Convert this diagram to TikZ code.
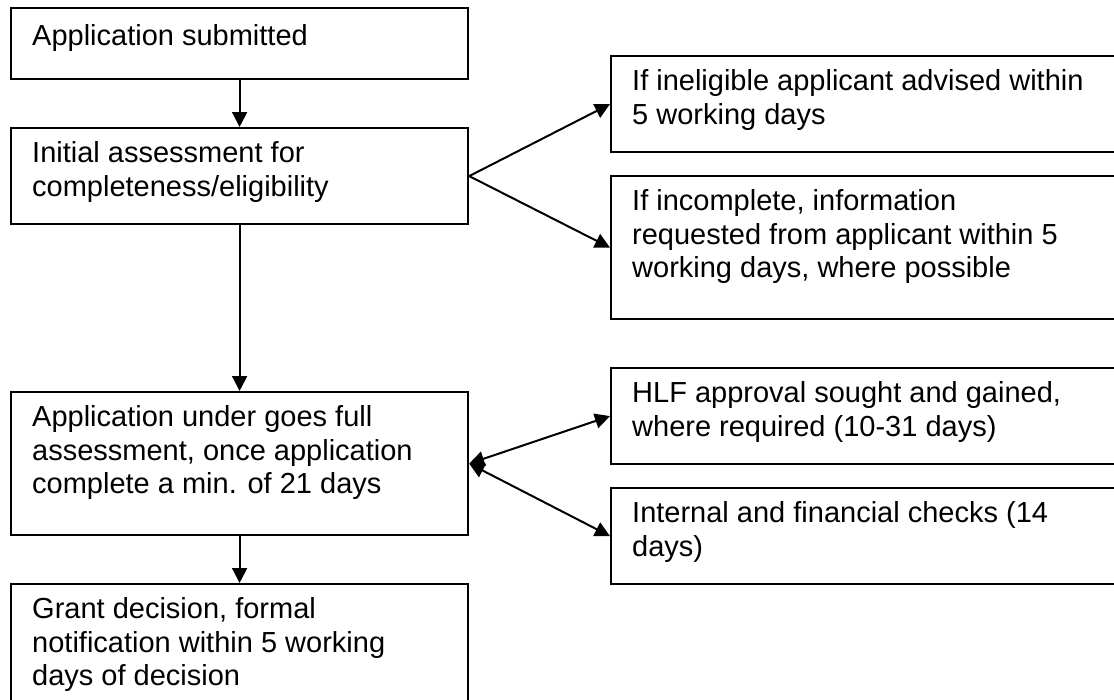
\documentclass[tikz,border=0pt]{standalone}
\usepackage{fontspec}
\setmainfont{Liberation Sans}
\usetikzlibrary{arrows.meta,positioning}

\tikzset{
    box/.style={draw=black, line width=2.2pt, anchor=north west, inner sep=0pt, minimum width=#1},
    txt/.style={anchor=north west, align=left, inner sep=0pt, font=\fontsize{29}{33.4}\selectfont, execute at begin node=\strut},
    arr/.style={line width=2pt, -{Triangle[length=15pt,width=15pt]}},
    dblarr/.style={line width=2pt, {Triangle[length=15pt,width=15pt]}-{Triangle[length=15pt,width=15pt]}}
}

\begin{document}
\begin{tikzpicture}[x=1pt,y=1pt]
            \clip (0,0) rectangle (1114,-699);
            % left column
            \node[box=457pt, minimum height=71pt] (sub) at (10,-7) {};
            \node[box=457pt, minimum height=96pt] (init) at (10,-127) {};
            \node[box=457pt, minimum height=143pt] (full) at (10,-391) {};
            \node[box=457pt, minimum height=140pt] (grant) at (10,-583) {};
            % right column
            \node[box=510pt, minimum height=96pt] (inel) at (610,-55) {};
            \node[box=510pt, minimum height=143pt] (incompl) at (610,-175) {};
            \node[box=510pt, minimum height=96pt] (hlf) at (610,-367) {};
            \node[box=510pt, minimum height=96pt] (checks) at (610,-487) {};

            \node[txt, below right=14.6pt and 22pt of sub.north west] (subtxt) {Application submitted};
            \node[txt, below right=14.6pt and 22pt of init.north west] (inittxt) {Initial assessment for\\completeness/eligibility};
            \node[txt, below right=14.6pt and 22pt of full.north west] (fulltxt) {Application under goes full\\assessment, once application\\complete a min. of 21 days};
            \node[txt, below right=14.6pt and 22pt of grant.north west] (granttxt) {Grant decision, formal\\notification within 5 working\\days of decision};
            \node[txt, below right=14.6pt and 22pt of inel.north west] (ineltxt) {If ineligible applicant advised within\\5 working days};
            \node[txt, below right=14.6pt and 22pt of incompl.north west] (incompltxt) {If incomplete, information\\requested from applicant within 5\\working days, where possible};
            \node[txt, below right=14.6pt and 22pt of hlf.north west] (hlftxt) {HLF approval sought and gained,\\where required (10-31 days)};
            \node[txt, below right=14.6pt and 22pt of checks.north west] (checkstxt) {Internal and financial checks (14\\days)};

            \draw[arr] (sub) -- (init);
            \draw[arr] (init) -- (full);
            \draw[arr] (full) -- (grant);
            \draw[arr] (init.east) -- (inel.west);
            \draw[arr] (init.east) -- (incompl.west);
            \draw[dblarr] (full.east) -- (hlf.west);
            \draw[dblarr] (full.east) -- (checks.west);
        \end{tikzpicture}
\end{document}
